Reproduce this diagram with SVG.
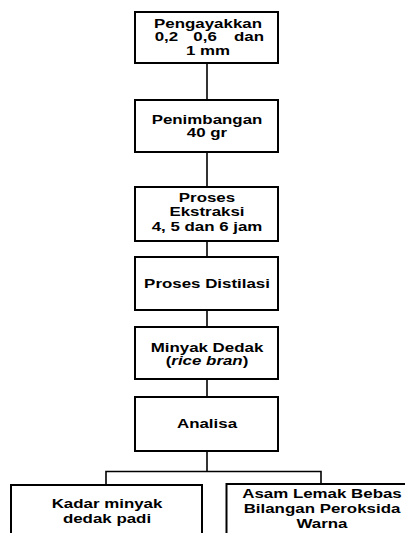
<svg xmlns="http://www.w3.org/2000/svg" width="405" height="533" viewBox="0 0 405 533">
<style>
.box{fill:#fff;stroke:#000;stroke-width:2}
.c line,.c path{stroke:#000;stroke-width:1.6;fill:none}
text{font-family:"Liberation Sans",Arial,sans-serif;font-weight:bold;font-size:13px;fill:#000;text-anchor:middle}
text.s{text-anchor:start}
</style>
<rect width="405" height="533" fill="#fff"/>
<g class="c" id="connectors">
<line x1="207" y1="63" x2="207" y2="100"/>
<line x1="207" y1="152" x2="207" y2="187"/>
<line x1="207" y1="241" x2="207" y2="257"/>
<line x1="207" y1="310" x2="207" y2="327"/>
<line x1="207" y1="379" x2="207" y2="397"/>
<line x1="207" y1="451" x2="207" y2="471.5"/>
<path d="M106,485 V471.5 H321 V484"/>
</g>
<g id="n1">
<rect class="box" x="135" y="12" width="143" height="51"/>
<text transform="translate(208,28) scale(1.3,1)">Pengayakkan</text>
<text class="s" transform="translate(154.7,41) scale(1.3,1)">0,2</text>
<text class="s" transform="translate(193.3,41) scale(1.3,1)">0,6</text>
<text class="s" transform="translate(234,41) scale(1.3,1)">dan</text>
<text transform="translate(208,55) scale(1.3,1)">1 mm</text>
</g>
<g id="n2">
<rect class="box" x="135" y="100" width="143" height="52"/>
<text transform="translate(207,124) scale(1.3,1)">Penimbangan</text>
<text transform="translate(207,137) scale(1.3,1)">40 gr</text>
</g>
<g id="n3">
<rect class="box" x="135" y="187" width="143" height="54"/>
<text transform="translate(207,202) scale(1.3,1)">Proses</text>
<text transform="translate(207,216) scale(1.3,1)">Ekstraksi</text>
<text transform="translate(207,231) scale(1.3,1)">4, 5 dan 6 jam</text>
</g>
<g id="n4">
<rect class="box" x="135" y="257" width="143" height="53"/>
<text transform="translate(207,288) scale(1.3,1)">Proses Distilasi</text>
</g>
<g id="n5">
<rect class="box" x="135" y="327" width="143" height="52"/>
<text transform="translate(207,352) scale(1.3,1)">Minyak Dedak</text>
<text transform="translate(207,365) scale(1.3,1)">(<tspan font-style="italic">rice bran</tspan>)</text>
</g>
<g id="n6">
<rect class="box" x="135" y="397" width="143" height="54"/>
<text transform="translate(207,428) scale(1.3,1)">Analisa</text>
</g>
<g id="n7">
<rect class="box" x="11" y="485" width="191" height="60"/>
<text transform="translate(107,508) scale(1.3,1)">Kadar minyak</text>
<text transform="translate(107,523) scale(1.3,1)">dedak padi</text>
</g>
<g id="n8">
<rect class="box" x="226.5" y="484" width="191" height="60"/>
<text transform="translate(322,498) scale(1.3,1)">Asam Lemak Bebas</text>
<text transform="translate(322,513) scale(1.3,1)">Bilangan Peroksida</text>
<text transform="translate(322,528) scale(1.3,1)">Warna</text>
</g>
</svg>
